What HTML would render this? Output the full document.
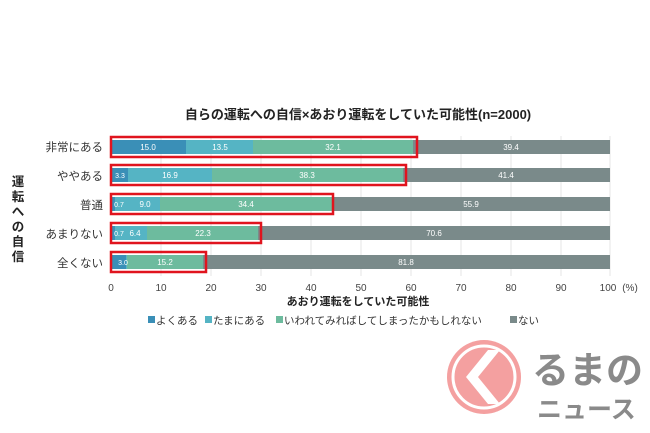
<!DOCTYPE html><html><head><meta charset="utf-8"><style>
body{margin:0;width:650px;height:433px;background:#fff;overflow:hidden;font-family:"Liberation Sans","Noto Sans CJK JP",sans-serif;position:relative}
</style></head><body>
<svg width="650" height="433" style="position:absolute;left:0;top:0" font-family="Liberation Sans, Noto Sans CJK JP, sans-serif">
<text x="358" y="119" text-anchor="middle" font-size="13" font-weight="bold" fill="#222">自らの運転への自信×あおり運転をしていた可能性(n=2000)</text>
<g stroke="#e4e4e4" stroke-width="1">
<line x1="161" y1="136" x2="161" y2="276"/><line x1="211" y1="136" x2="211" y2="276"/><line x1="261" y1="136" x2="261" y2="276"/><line x1="311" y1="136" x2="311" y2="276"/><line x1="361" y1="136" x2="361" y2="276"/><line x1="411" y1="136" x2="411" y2="276"/><line x1="461" y1="136" x2="461" y2="276"/><line x1="511" y1="136" x2="511" y2="276"/><line x1="561" y1="136" x2="561" y2="276"/><line x1="610" y1="136" x2="610" y2="276"/>
</g>
<g font-size="8" fill="#fff" text-anchor="middle">
<rect x="111" y="140" width="75" height="14" fill="#3a8fb7"/><rect x="186" y="140" width="67" height="14" fill="#55b4c4"/><rect x="253" y="140" width="160" height="14" fill="#6dbb9e"/><rect x="413" y="140" width="197" height="14" fill="#7a8a8a"/>
<text x="148" y="150">15.0</text><text x="220" y="150">13.5</text><text x="333" y="150">32.1</text><text x="511" y="150">39.4</text>
<rect x="111" y="168" width="17" height="14" fill="#3a8fb7"/><rect x="128" y="168" width="84" height="14" fill="#55b4c4"/><rect x="212" y="168" width="191" height="14" fill="#6dbb9e"/><rect x="403" y="168" width="207" height="14" fill="#7a8a8a"/>
<text x="120" y="178" font-size="7">3.3</text><text x="170" y="178">16.9</text><text x="307" y="178">38.3</text><text x="506" y="178">41.4</text>
<rect x="111" y="197" width="4" height="14" fill="#3a8fb7"/><rect x="115" y="197" width="45" height="14" fill="#55b4c4"/><rect x="160" y="197" width="172" height="14" fill="#6dbb9e"/><rect x="332" y="197" width="278" height="14" fill="#7a8a8a"/>
<text x="119" y="207" font-size="7">0.7</text><text x="145" y="207">9.0</text><text x="246" y="207">34.4</text><text x="471" y="207">55.9</text>
<rect x="111" y="226" width="4" height="14" fill="#3a8fb7"/><rect x="115" y="226" width="32" height="14" fill="#55b4c4"/><rect x="147" y="226" width="111" height="14" fill="#6dbb9e"/><rect x="258" y="226" width="352" height="14" fill="#7a8a8a"/>
<text x="119" y="236" font-size="7">0.7</text><text x="135" y="236">6.4</text><text x="203" y="236">22.3</text><text x="434" y="236">70.6</text>
<rect x="111" y="255" width="15" height="14" fill="#3a8fb7"/><rect x="126" y="255" width="1" height="14" fill="#55b4c4"/><rect x="127" y="255" width="76" height="14" fill="#6dbb9e"/><rect x="203" y="255" width="407" height="14" fill="#7a8a8a"/>
<text x="123" y="265" font-size="7">3.0</text><text x="165" y="265">15.2</text><text x="406" y="265">81.8</text>
</g>
<g fill="none" stroke="#e0141e" stroke-width="2.5">
<rect x="111" y="137" width="306" height="20"/><rect x="111" y="165" width="295" height="20"/><rect x="111" y="194" width="222" height="20"/><rect x="111" y="223" width="150" height="20"/><rect x="111" y="252" width="95" height="20"/>
</g>
<g font-size="11.5" fill="#333" text-anchor="end">
<text x="103" y="151">非常にある</text><text x="103" y="180">ややある</text><text x="103" y="209">普通</text><text x="103" y="238">あまりない</text><text x="103" y="267">全くない</text>
</g>
<g font-size="12.5" font-weight="bold" fill="#222" text-anchor="middle">
<text x="18" y="186">運</text><text x="18" y="201">転</text><text x="18" y="216">へ</text><text x="18" y="231">の</text><text x="18" y="246">自</text><text x="18" y="261">信</text>
</g>
<g font-size="10" fill="#444" text-anchor="middle">
<text x="111" y="291">0</text><text x="161" y="291">10</text><text x="211" y="291">20</text><text x="261" y="291">30</text><text x="311" y="291">40</text><text x="361" y="291">50</text><text x="411" y="291">60</text><text x="461" y="291">70</text><text x="511" y="291">80</text><text x="561" y="291">90</text><text x="608" y="291">100</text><text x="630" y="291">(%)</text>
</g>
<text x="358" y="305" text-anchor="middle" font-size="11" font-weight="bold" fill="#222">あおり運転をしていた可能性</text>
<g font-size="10.5" fill="#333">
<rect x="148" y="316" width="7" height="7" fill="#3a8fb7"/><text x="156" y="324">よくある</text>
<rect x="205" y="316" width="7" height="7" fill="#55b4c4"/><text x="213" y="324">たまにある</text>
<rect x="276" y="316" width="7" height="7" fill="#6dbb9e"/><text x="284" y="324">いわれてみればしてしまったかもしれない</text>
<rect x="510" y="316" width="7" height="7" fill="#7a8a8a"/><text x="518" y="324">ない</text>
</g>
<circle cx="484" cy="377" r="37" fill="#f4a0a0"/>
<circle cx="484" cy="377" r="31" fill="none" stroke="#fff" stroke-width="3"/>
<polygon points="488,350 466,377 488,404 500,404 478,377 500,350" fill="#fff"/>
<text x="532" y="383" font-size="37" font-weight="bold" fill="#8a8a8a">るまの</text>
<text x="537" y="418" font-size="25" font-weight="bold" fill="#8a8a8a">ニュース</text>
</svg>
</body></html>
